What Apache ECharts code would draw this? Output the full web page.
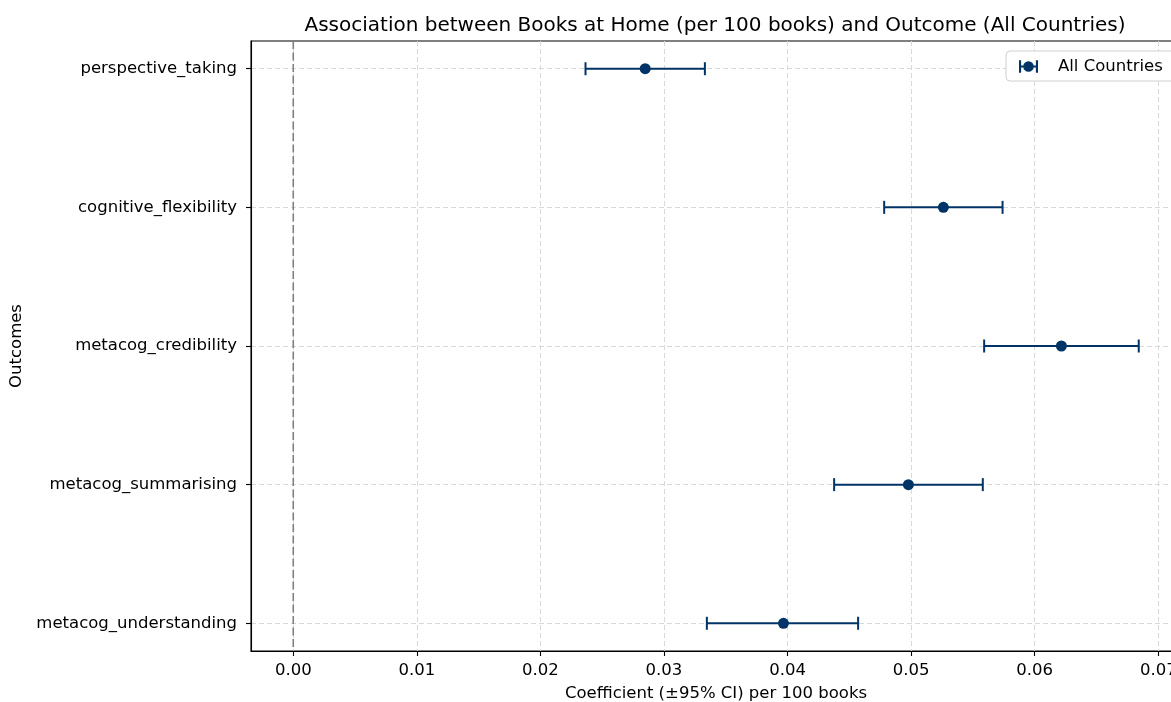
<!DOCTYPE html>
<html>
<head>
<meta charset="utf-8">
<script src="https://cdn.jsdelivr.net/npm/echarts@6/dist/echarts.min.js"></script>
<style>
html,body{margin:0;padding:0;background:#fff;}
#chart{width:1171px;height:702px;}
</style>
</head>
<body>
<div id="chart"></div>
<script>
const outcomes = ['perspective_taking','cognitive_flexibility','metacog_credibility','metacog_summarising','metacog_understanding'];
const coef = [0.02848, 0.05261, 0.06216, 0.04978, 0.03967];
const ciLow = [0.02365, 0.04782, 0.05591, 0.04377, 0.03347];
const ciHigh = [0.03331, 0.05740, 0.06842, 0.05580, 0.04571];
const xTicks = [0, 0.01, 0.02, 0.03, 0.04, 0.05, 0.06, 0.07];
const seriesName = 'All Countries';

const navy = '#003366';
const FONT = 'DejaVu Sans';
const FS = 16.5;

const errData = outcomes.map((o, i) => [ciLow[i], ciHigh[i], coef[i], i]);
const yIdx = outcomes.map((o, i) => i);

const chart = echarts.init(document.getElementById('chart'), null, {renderer: 'canvas'});
chart.setOption({
  animation: false,
  backgroundColor: '#fff',
  textStyle: {fontFamily: FONT},
  title: {
    text: 'Association between Books at Home (per 100 books) and Outcome (All Countries)',
    left: 710, top: 11, textAlign: 'center',
    textStyle: {fontFamily: FONT, fontSize: 20, fontWeight: 'normal', color: '#000'}
  },
  legend: {
    data: [{name: seriesName, icon: 'path://M0,0h2v12h-2z M2,5h14v2h-14z M16,0h2v12h-2z M4,6a5,5 0 1,1 10,0a5,5 0 1,1 -10,0z'}],
    left: 1006, top: 51,
    itemWidth: 19, itemHeight: 13, itemGap: 10,
    padding: [7, 30, 6, 13],
    borderColor: '#d0d0d0', borderWidth: 1, borderRadius: 4,
    backgroundColor: 'rgba(255,255,255,0.9)',
    textStyle: {fontFamily: FONT, fontSize: FS, color: '#000', padding: [0,0,0,15]}
  },
  grid: {left: 251, top: 41, width: 930, height: 610, containLabel: false, outerBoundsMode: 'none',
    show: true, borderColor: '#000', borderWidth: 1.1, backgroundColor: 'transparent'},
  xAxis: {
    type: 'value', min: -0.00342, max: 0.07184,
    name: 'Coefficient (±95% CI) per 100 books',
    nameLocation: 'middle', nameGap: 34,
    nameTextStyle: {fontFamily: FONT, fontSize: FS, color: '#000'},
    axisLine: {show: true, onZero: false, lineStyle: {color: '#000', width: 1.1}},
    axisTick: {show: true, customValues: xTicks, length: 5, lineStyle: {color: '#000', width: 1.1}},
    axisLabel: {customValues: xTicks, margin: 11, fontFamily: FONT, fontSize: FS, color: '#000',
      formatter: v => v.toFixed(2)},
    splitLine: {show: true, lineStyle: {color: '#d9d9d9', type: [5, 3], width: 1}}
  },
  yAxis: {
    type: 'value', min: -0.2, max: 4.2, inverse: true,
    name: 'Outcomes', nameLocation: 'middle', nameGap: 221, nameRotate: 90,
    nameTextStyle: {fontFamily: FONT, fontSize: FS, color: '#000'},
    axisLine: {show: true, onZero: false, lineStyle: {color: '#000', width: 1.1}},
    axisTick: {show: true, customValues: yIdx, length: 5, lineStyle: {color: '#000', width: 1.1}},
    axisLabel: {customValues: yIdx, margin: 14, fontFamily: FONT, fontSize: FS, color: '#000',
      formatter: v => outcomes[Math.round(v)]},
    splitLine: {show: true, lineStyle: {color: '#d9d9d9', type: [5, 3], width: 1}}
  },
  series: [
    {
      name: 'zero', type: 'line', data: [[0, -0.2], [0, 4.2]],
      showSymbol: false, symbol: 'none', silent: true, z: 1,
      lineStyle: {color: '#808080', width: 1.6, type: [8, 3.5]}
    },
    {
      name: seriesName, type: 'custom', z: 5,
      itemStyle: {color: navy},
      data: errData,
      renderItem: function (params, api) {
        const lo = api.coord([api.value(0), api.value(3)]);
        const hi = api.coord([api.value(1), api.value(3)]);
        const pt = api.coord([api.value(2), api.value(3)]);
        const cap = 6.5;
        const st = {stroke: navy, lineWidth: 2, fill: null};
        return {
          type: 'group',
          children: [
            {type: 'line', shape: {x1: lo[0], y1: lo[1], x2: hi[0], y2: hi[1]}, style: st},
            {type: 'line', shape: {x1: lo[0], y1: lo[1] - cap, x2: lo[0], y2: lo[1] + cap}, style: st},
            {type: 'line', shape: {x1: hi[0], y1: hi[1] - cap, x2: hi[0], y2: hi[1] + cap}, style: st},
            {type: 'circle', shape: {cx: pt[0], cy: pt[1], r: 5.5}, style: {fill: navy, stroke: null}}
          ]
        };
      }
    }
  ]
});
</script>
</body>
</html>
